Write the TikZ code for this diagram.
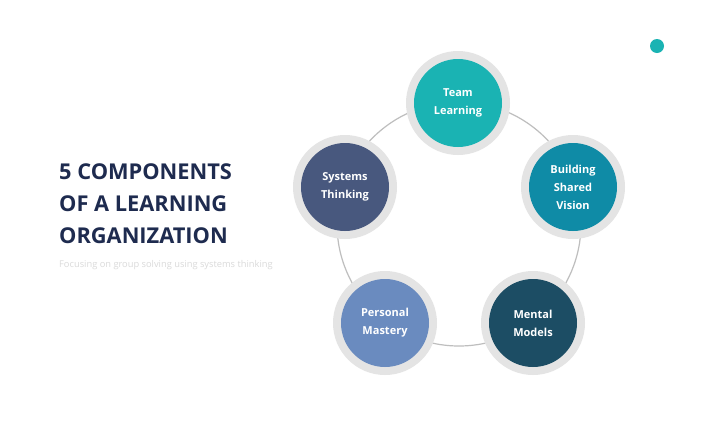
\documentclass[tikz,border=0pt]{standalone}
\usepackage{fontspec}
\setmainfont{Open Sans}
\begin{document}
\begin{tikzpicture}[x=1pt,y=-1pt]
\definecolor{navy}{HTML}{1E2B4F}
\definecolor{ringgray}{HTML}{E4E4E4}
\definecolor{linegray}{HTML}{BEBEBE}
\definecolor{subgray}{HTML}{DADADA}
\definecolor{cTeam}{HTML}{1AB3B3}
\definecolor{cVision}{HTML}{0F8BA6}
\definecolor{cMental}{HTML}{1C4D64}
\definecolor{cPersonal}{HTML}{6A8BBF}
\definecolor{cSystems}{HTML}{48587E}
\tikzset{
  ring/.style={circle, fill=ringgray, minimum size=104pt, inner sep=0pt},
  comp/.style={circle, minimum size=88pt, inner sep=0pt, text=white,
    font=\fontsize{11}{18}\selectfont\bfseries, align=center},
  titletext/.style={anchor=north west, text=navy, font=\fontsize{21.8}{32}\selectfont\bfseries, align=left, inner sep=0pt},
  subtext/.style={anchor=west, text=subgray, font=\fontsize{9.3}{11}\selectfont, inner sep=0pt},
}
\fill[white] (0,0) rectangle (716,421);
\useasboundingbox (0,0) rectangle (716,421);
% connecting circle
\node[circle, draw=linegray, line width=1.2pt, minimum size=244pt, inner sep=0pt] (loop) at (459,224) {};
% rings
\node[ring] (r1) at (458,103) {};
\node[ring] (r2) at (573,187) {};
\node[ring] (r3) at (533,323) {};
\node[ring] (r4) at (385,323) {};
\node[ring] (r5) at (345,187) {};
% components
\node[comp, fill=cTeam] (team) at (r1) {Team\\Learning};
\node[comp, fill=cVision] (vision) at (r2) {Building\\Shared\\Vision};
\node[comp, fill=cMental] (mental) at (r3) {Mental\\Models};
\node[comp, fill=cPersonal] (personal) at (r4) {Personal\\Mastery};
\node[comp, fill=cSystems] (systems) at (r5) {Systems\\Thinking};
% title
\node[titletext] (title) at (59,163) {5 COMPONENTS\\OF A LEARNING\\ORGANIZATION};
\node[subtext] (sub) at (59,265) {Focusing on group solving using systems thinking};
% page dot
\node[circle, fill=cTeam, minimum size=14pt, inner sep=0pt] (dot) at (657,46) {};
\end{tikzpicture}
\end{document}
